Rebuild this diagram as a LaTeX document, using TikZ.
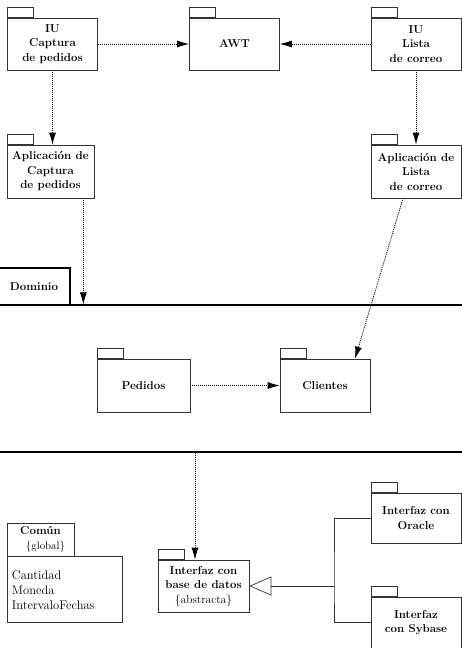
\documentclass[tikz,border=0pt]{standalone}
\usepackage{tikz}
\usetikzlibrary{arrows.meta,positioning,calc}

\begin{document}
\begin{tikzpicture}[
                x=1pt, y=-1pt,
                font=\fontsize{11}{14.5}\selectfont,
                pkg/.style={draw=black!80, line width=0.7pt, align=center, inner sep=0pt, minimum width=90pt, minimum height=52pt, font=\fontsize{11.5}{14.5}\selectfont\bfseries},
                pkgtab/.style={draw=black!80, line width=0.7pt, inner sep=0pt, minimum width=26pt, minimum height=10pt, anchor=south west},
                region/.style={draw=black, line width=1.2pt, inner sep=0pt},
                dep/.style={-{Latex[length=12pt,width=7pt]}, dash pattern=on 1pt off 1pt, line width=0.8pt},
                gen/.style={draw=black!80, line width=0.7pt},
                realiza/.style={gen, -{Triangle[open,length=22pt,width=19pt]}}
            ]
            \useasboundingbox (0,0) rectangle (462,648);
            % paquete Dominio
            \node[region, minimum width=468pt, minimum height=147pt] (dominio) at (231,378.5) {};
            \node[region, minimum width=72pt, minimum height=37pt, font=\fontsize{11.5}{14.5}\selectfont\bfseries] (domtab) at (34,286.5) {Dominio};
            % paquetes
            \node[pkg] (iucap) at (52.5,44) {IU\\Captura\\de pedidos};
            \node[pkg] (awt) at (234.5,44) {AWT};
            \node[pkg] (iulis) at (416,44) {IU\\Lista\\de correo};
            \node[pkg, minimum width=87pt, minimum height=53pt] (appcap) at (50.5,171.5) {Aplicación de\\Captura\\de pedidos};
            \node[pkg, minimum height=53pt] (applis) at (416,171.5) {Aplicación de\\Lista\\de correo};
            \node[pkg, minimum width=93pt, minimum height=53pt] (pedidos) at (143.5,385.5) {Pedidos};
            \node[pkg, minimum height=53pt] (clientes) at (325,385.5) {Clientes};
            \node[pkg, minimum width=91pt] (bd) at (203.5,586) {Interfaz con\\base de datos\\\mdseries\{abstracta\}};
            \node[pkg, minimum height=50pt] (oracle) at (416,518) {Interfaz con\\Oracle};
            \node[pkg, minimum height=51pt] (sybase) at (416,622.5) {Interfaz\\con Sybase};
            \foreach \n in {iucap,awt,iulis,appcap,applis,pedidos,clientes,bd,oracle,sybase}
                \node[pkgtab] (\n-tab) at (\n.north west) {};
            % paquete Comun
            \node[gen, draw, align=center, inner sep=0pt, minimum width=67pt, minimum height=33pt] (comun) at (40.5,539.5) {\fontsize{11.5}{14.5}\selectfont\textbf{Común}\\\hspace*{10pt}\{global\}};
            \node[gen, draw, anchor=north west, align=left, inner sep=5pt, text width=105pt, minimum height=66pt, font=\fontsize{12.5}{15}\selectfont] (comunlist) at (comun.south west) {Cantidad\\Moneda\\IntervaloFechas};
            % dependencias
            \draw[dep] (iucap) -- (awt);
            \draw[dep] (iulis) -- (awt);
            \draw[dep] (iucap.south) -- (iucap.south |- appcap.north);
            \draw[dep] (iulis.south) -- (iulis.south |- applis.north);
            \coordinate (capout) at ([xshift=-11pt]appcap.south east);
            \draw[dep] (capout) -- (capout |- dominio.north);
            \draw[dep] ([xshift=-13pt]applis.south) -- ([xshift=30pt]clientes.north);
            \draw[dep] (pedidos) -- (clientes);
            \coordinate (bdin) at ([xshift=-8.5pt]bd.north);
            \draw[dep] (bdin |- dominio.south) -- (bdin);
            % generalizacion
            \coordinate (gx) at (334,585);
            \draw[gen] (oracle.west) -| (gx) |- (sybase.west);
            \draw[realiza] (gx |- bd.east) -- (bd.east);
        \end{tikzpicture}
\end{document}
